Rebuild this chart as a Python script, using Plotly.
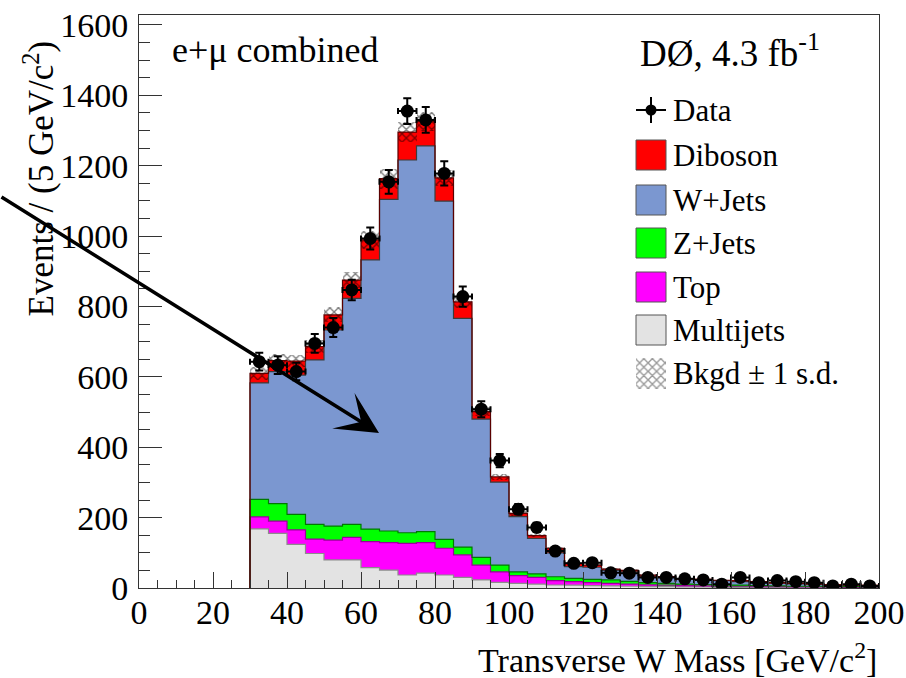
import numpy as np
import plotly.graph_objects as go

# ---------------- data ----------------
bin_width = 5
bin_lo = list(range(30, 200, 5))

multijets = [168, 155, 124, 98, 80, 80, 58, 51, 37, 42, 37, 30, 23, 16, 13, 11, 8.5, 8, 7, 6,
             5, 4, 4, 3, 3, 2, 2, 2, 2, 1, 1, 1, 1, 1]
top = [34, 35, 41, 41, 56, 64, 74, 78, 90, 87, 76, 64, 42, 30, 22, 19, 12.5, 10, 8, 7,
       6, 5, 4, 4, 3, 3, 3, 2, 2, 2, 2, 2, 1, 1]
zjets = [50, 50, 44, 42, 40, 37, 35, 33, 30, 31, 25, 22, 22, 19, 11, 10, 11, 9.5, 9.6, 10,
         8, 6, 5, 4, 4, 4, 3, 3, 2, 2, 2, 1, 2, 1]
wjets = [331, 375, 396, 467, 557, 642, 765, 942, 1059, 1096, 961, 650, 393, 236, 157, 101, 68, 33.5, 34.4, 27,
         27, 19, 17, 14, 13, 12, 10, 9, 8, 7, 6, 5, 4, 4]
diboson = [27, 31, 40, 38, 43, 52, 57, 59, 79, 69, 66, 47, 21, 15, 9, 8, 13, 9, 6, 4,
           4, 3, 2, 2, 2, 1, 2, 2, 1, 1, 1, 1, 1, 1]
bkgd_sd = [18, 18, 18, 19, 21, 24, 26, 28, 28, 26, 24, 18, 12, 9, 6, 5, 4, 3, 3, 3,
           3, 2, 2, 2, 2, 2, 2, 2, 2, 1, 1, 1, 1, 1]
data = [643, 633, 615, 695, 740, 847, 993, 1154, 1355, 1330, 1178, 828, 508, 362, 224, 172, 105, 70, 72, 43,
        42, 30, 30, 26, 23, 11, 30, 15, 21, 18, 15, 6, 11, 6]

x_ticks = list(range(0, 201, 20))
y_ticks = list(range(0, 1601, 200))

# ---------------- derived ----------------
lo = np.array(bin_lo, dtype=float)
centers = lo + bin_width / 2
edges = np.append(lo, lo[-1] + bin_width)

comps = [
    ("Multijets", multijets, "#e3e3e3", "#8c8c8c"),
    ("Top", top, "#ff00ff", "#9a009a"),
    ("Z+Jets", zjets, "#00ff00", "#007a00"),
    ("W+Jets", wjets, "#7b97d0", "#3c3c3c"),
    ("Diboson", diboson, "#ff0000", "#5a0000"),
]

fig = go.Figure()
base = np.zeros(len(lo))
tops = []
for name, vals, col, lcol in comps:
    v = np.array(vals, dtype=float)
    fig.add_trace(go.Bar(x=centers, y=v, base=base.copy(), width=bin_width,
                         marker=dict(color=col, line=dict(width=0)),
                         showlegend=False, hoverinfo="skip"))
    base = base + v
    tops.append((base.copy(), lcol))

# step outlines
for cum, lcol in tops:
    xs = np.concatenate([[edges[0]], edges])
    ys = np.concatenate([[0.0], cum, [cum[-1]]])
    fig.add_trace(go.Scatter(x=xs, y=ys, mode="lines",
                             line=dict(color=lcol, width=1.2, shape="hv"),
                             showlegend=False, hoverinfo="skip"))

total = base
sd = np.array(bkgd_sd, dtype=float)
fig.add_trace(go.Bar(x=centers, y=2 * sd, base=total - sd, width=bin_width,
                     marker=dict(color="rgba(0,0,0,0)", line=dict(width=0),
                                 pattern=dict(shape="x", fgcolor="black", bgcolor="rgba(0,0,0,0)",
                                              size=6, solidity=0.4, fillmode="overlay")),
                     showlegend=False, hoverinfo="skip"))

d = np.array(data, dtype=float)
fig.add_trace(go.Scatter(x=centers, y=d, mode="markers",
                         marker=dict(color="black", size=13),
                         error_y=dict(type="data", array=np.sqrt(d), color="black", thickness=2, width=4),
                         error_x=dict(type="data", array=[bin_width / 2] * len(d), color="black", thickness=2, width=3),
                         showlegend=False, hoverinfo="skip"))

# ---------------- legend (pixel overlay axes) ----------------
fig.add_trace(go.Scatter(x=[636, 666, 666, 636, 636], y=[358, 358, 389, 389, 358],
                         xaxis="x2", yaxis="y2", mode="lines", fill="toself",
                         fillcolor="rgba(0,0,0,0)", line=dict(width=0, color="rgba(0,0,0,0)"),
                         fillpattern=dict(shape="x", fgcolor="#333", bgcolor="rgba(0,0,0,0)",
                                          size=6, solidity=0.4, fillmode="overlay"),
                         showlegend=False, hoverinfo="skip"))
fig.add_trace(go.Scatter(x=[651], y=[110], xaxis="x2", yaxis="y2", mode="markers",
                         marker=dict(color="black", size=11), showlegend=False, hoverinfo="skip"))

shapes = [
    dict(type="line", xref="x2", yref="y2", x0=636, x1=666, y0=110, y1=110, line=dict(color="black", width=2)),
    dict(type="line", xref="x2", yref="y2", x0=651, x1=651, y0=97, y1=123, line=dict(color="black", width=2)),
]
legend_rows = [("Diboson", "#ff0000", 155), ("W+Jets", "#7b97d0", 200), ("Z+Jets", "#00ff00", 243),
               ("Top", "#ff00ff", 287), ("Multijets", "#e3e3e3", 330)]
for _, col, yc in legend_rows:
    shapes.append(dict(type="rect", xref="x2", yref="y2", x0=636, x1=666, y0=yc - 15, y1=yc + 15,
                       fillcolor=col, line=dict(color="#555", width=1)))

serif = "Liberation Serif"
annotations = []
leg_text = [("Data", 110), ("Diboson", 155), ("W+Jets", 200), ("Z+Jets", 243), ("Top", 287),
            ("Multijets", 330), ("Bkgd \u00b1 1 s.d.", 373)]
for txt, yc in leg_text:
    annotations.append(dict(xref="x2", yref="y2", x=671, y=yc, text=txt, showarrow=False,
                            xanchor="left", yanchor="middle", font=dict(family=serif, size=31, color="black")))

annotations += [
    dict(xref="x2", yref="y2", x=170, y=50, text="e+\u03bc combined", showarrow=False,
         xanchor="left", yanchor="middle", font=dict(family=serif, size=36, color="black")),
    dict(xref="x2", yref="y2", x=638, y=50, text="D\u00d8, 4.3 fb<sup>-1</sup>", showarrow=False,
         xanchor="left", yanchor="middle", font=dict(family=serif, size=37, color="black")),
    dict(xref="paper", yref="paper", x=-0.135, y=0.715, text="Events / (5 GeV/c<sup>2</sup>)",
         textangle=-90, showarrow=False, xanchor="center", yanchor="middle",
         font=dict(family=serif, size=35, color="black")),
    dict(xref="paper", yref="paper", x=1.0, y=-0.122, text="Transverse W Mass [GeV/c<sup>2</sup>]",
         showarrow=False, xanchor="right", yanchor="middle",
         font=dict(family=serif, size=34, color="black")),
    dict(xref="x2", yref="y2", x=379, y=433, ax=0, ay=196, axref="x2", ayref="y2",
         showarrow=True, arrowhead=3, arrowsize=2.0, arrowwidth=3.5, arrowcolor="black", text=""),
]

axis_font = dict(family=serif, size=34, color="black")
fig.update_layout(
    width=906, height=678,
    margin=dict(l=139, r=27, t=15, b=90, autoexpand=False),
    paper_bgcolor="white", plot_bgcolor="white",
    barmode="overlay", bargap=0,
    showlegend=False,
    shapes=shapes, annotations=annotations,
    xaxis=dict(range=[0, 200], tickmode="array", tickvals=x_ticks, ticks="inside", ticklen=16,
               tickcolor="#333", tickwidth=1, showline=True, linecolor="#333", linewidth=1, mirror=True,
               showgrid=False, zeroline=False, tickfont=axis_font, ticklabelstandoff=-6, automargin=False,
               minor=dict(dtick=5, ticks="inside", ticklen=8, tickcolor="#333", tickwidth=1, showgrid=False)),
    yaxis=dict(range=[0, 1628], tickmode="array", tickvals=y_ticks, ticks="inside", ticklen=23,
               tickcolor="#333", tickwidth=1, showline=True, linecolor="#333", linewidth=1, mirror=True,
               showgrid=False, zeroline=False, tickfont=axis_font, ticklabelstandoff=3, automargin=False,
               minor=dict(dtick=50, ticks="inside", ticklen=11, tickcolor="#333", tickwidth=1, showgrid=False)),
    xaxis2=dict(range=[139, 879], overlaying="x", visible=False, anchor="y2", fixedrange=True),
    yaxis2=dict(range=[588, 15], overlaying="y", visible=False, anchor="x2", fixedrange=True),
)

fig.write_html("out.html")
